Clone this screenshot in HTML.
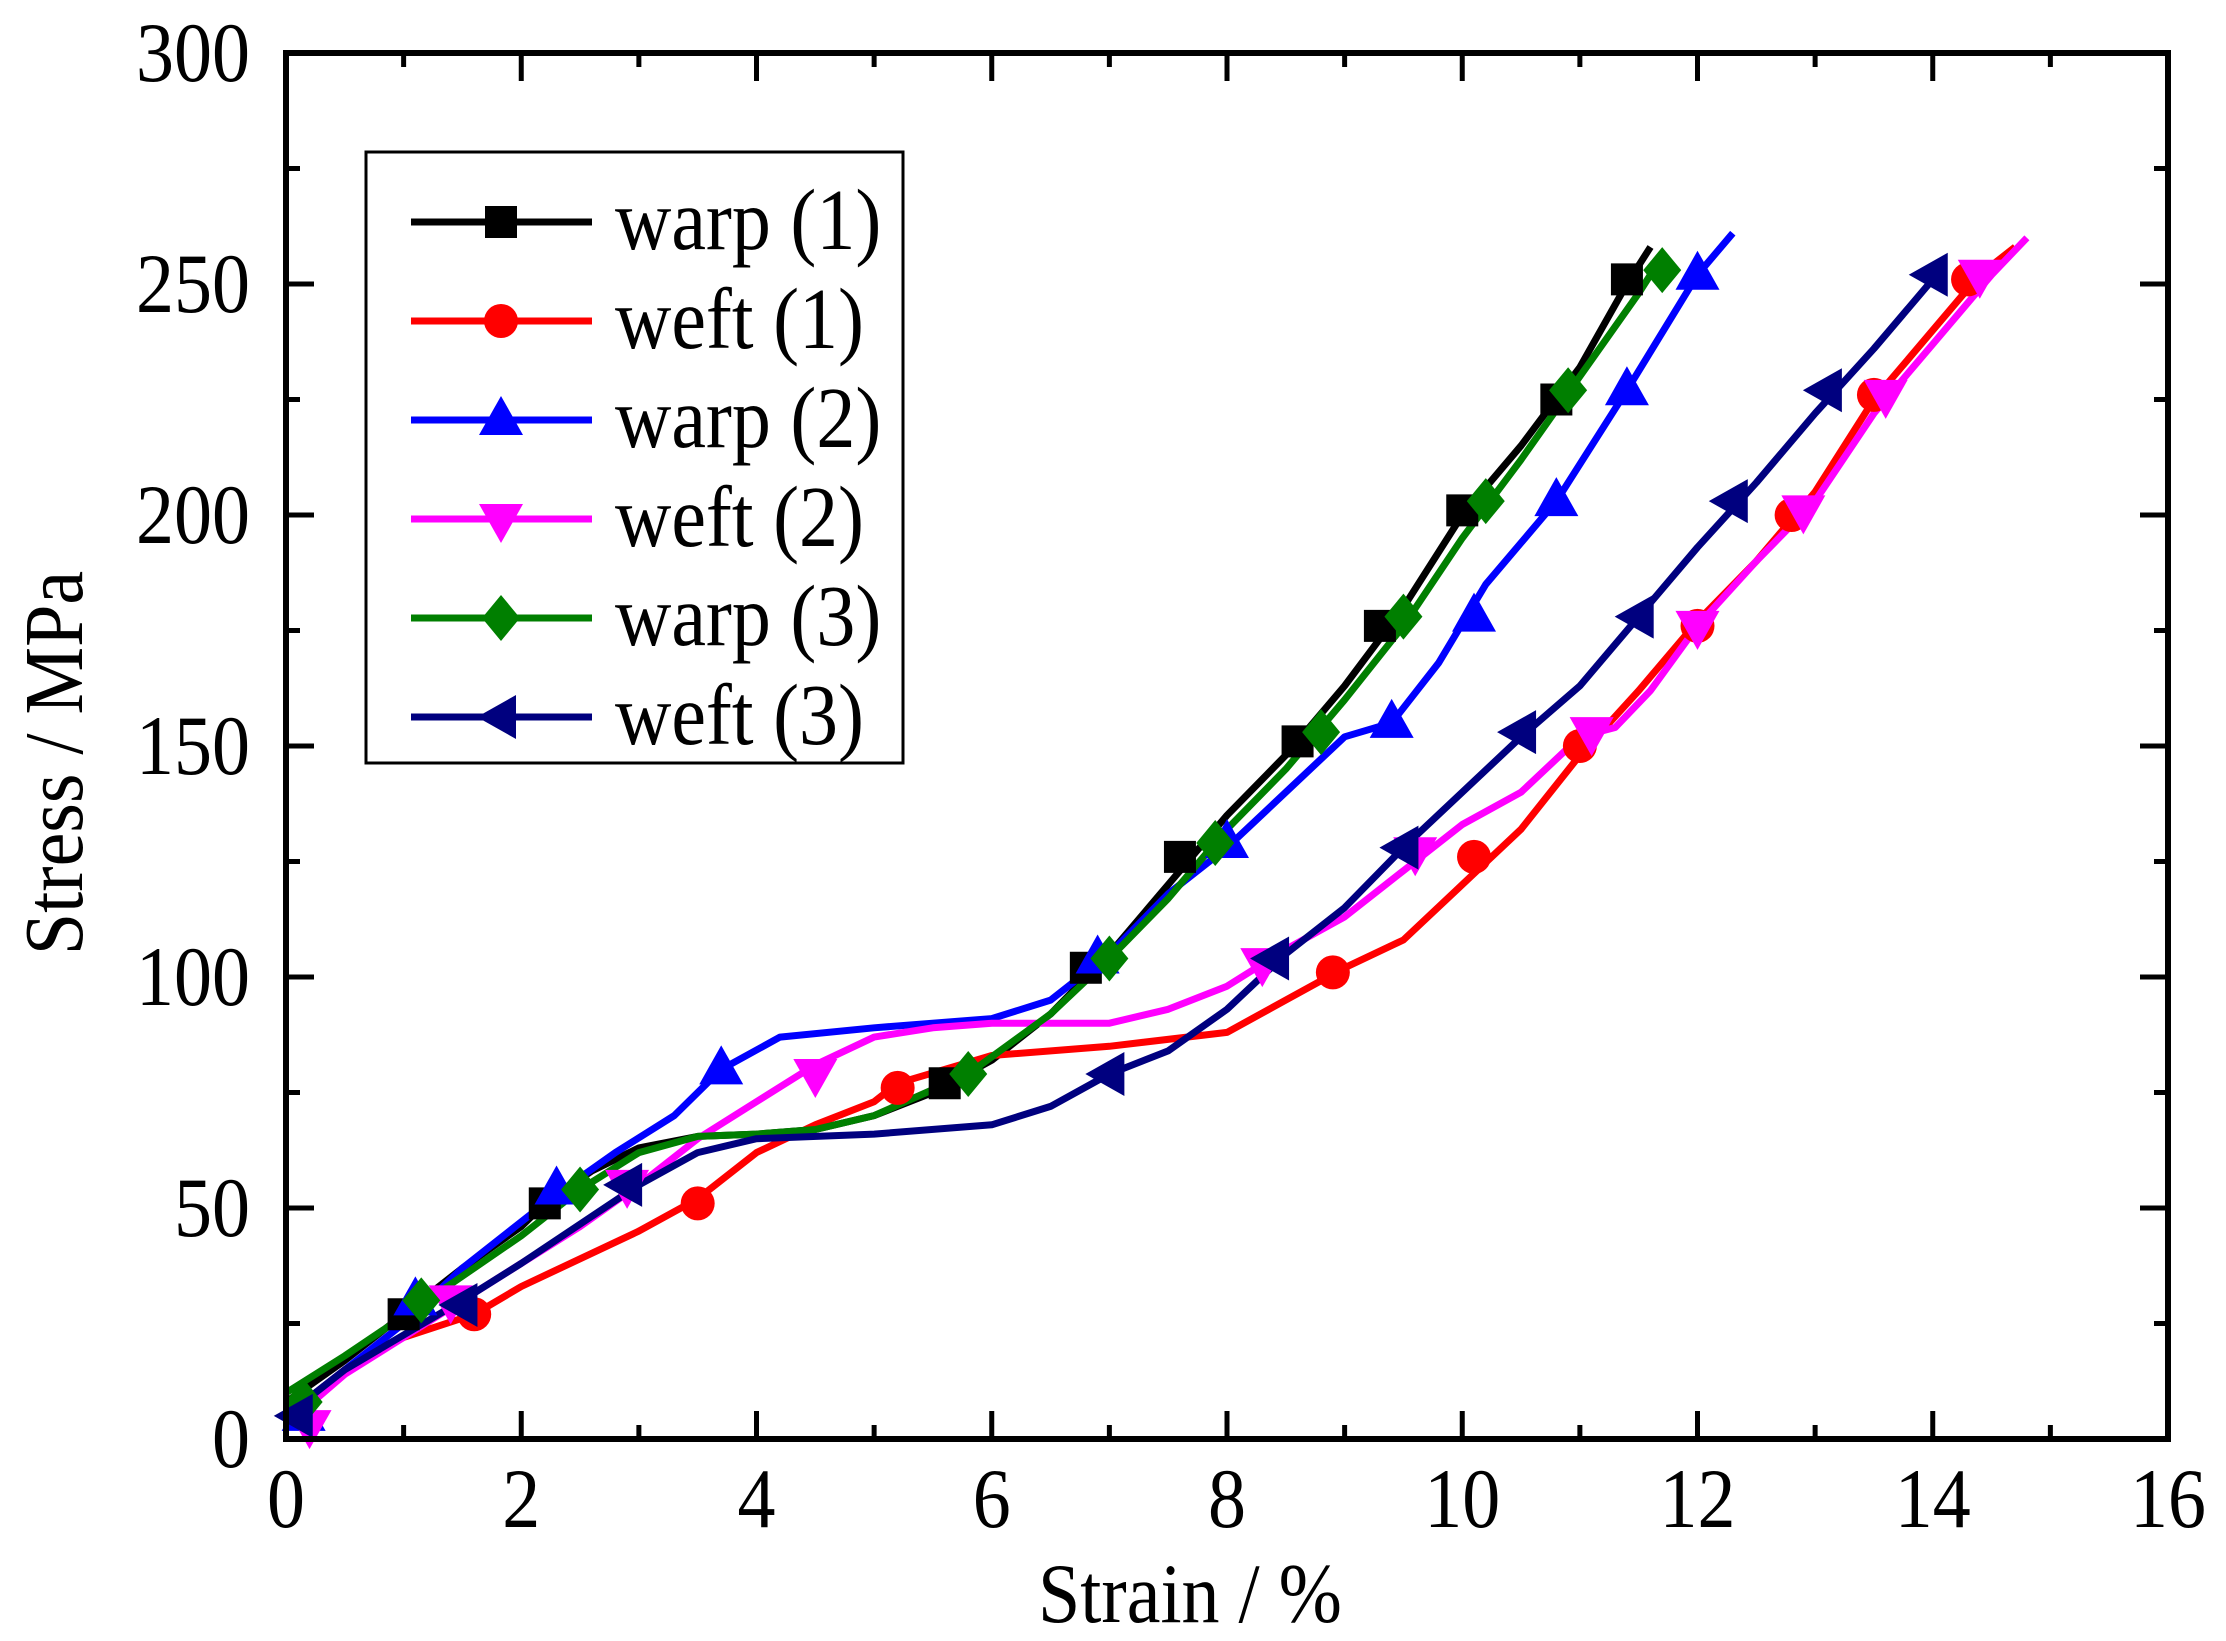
<!DOCTYPE html>
<html><head><meta charset="utf-8"><style>
html,body{margin:0;padding:0;background:#fff}
svg{display:block}
text{font-family:"Liberation Serif",serif;fill:#000}
</style></head><body>
<svg id="s" width="2226" height="1641" viewBox="0 0 2226 1641" xmlns="http://www.w3.org/2000/svg"></svg>
<script>
const L=286,R=2168,T=53,B=1439;
const X=v=>L+(R-L)*v/16, Y=v=>B-(B-T)*v/300;
let h='<rect width="2226" height="1641" fill="#fff"/>';
const series=[
{c:'#000',m:'sq',d:[[0,8],[0.5,17],[1,27],[1.5,37],[2,46],[2.2,51],[2.6,58],[3,63],[3.5,65.5],[4,66],[4.5,67],[5,70],[5.5,75],[6,82],[6.5,92],[7,105],[7.5,120],[8,135],[8.5,148],[9,163],[9.5,180],[10,200],[10.5,215],[11,232],[11.4,250],[11.6,258]],
 k:[[1,27],[2.2,51],[5.6,77],[6.8,102],[7.6,126],[8.6,151],[9.3,176],[10,201],[10.8,225],[11.4,251]]},
{c:'#ff0000',m:'ci',d:[[0,5],[0.5,15],[1,22],[1.6,27],[2,33],[3,45],[3.5,52],[4,62],[4.5,68],[5,73],[5.2,77],[6,83],[7,85],[8,88],[8.5,95],[9,102],[9.5,108],[10,120],[10.5,132],[11,148],[11.5,162],[12,177],[12.5,190],[13,205],[13.5,225],[14,240],[14.4,252],[14.7,258]],
 k:[[1.6,27],[3.5,51],[5.2,76],[8.9,101],[10.1,126],[11,150],[12,176],[12.8,200],[13.5,226],[14.3,251]]},
{c:'#0000ff',m:'tu',d:[[0,5],[0.5,15],[1,25],[1.5,37],[2.3,53],[2.8,62],[3.3,70],[3.7,80],[4.2,87],[5,89],[6,91],[6.5,95],[7,105],[7.5,118],[8,128],[8.5,140],[9,152],[9.4,155],[9.8,168],[10.2,185],[10.8,203],[11.4,227],[12,252],[12.3,261]],
 k:[[0.15,5],[1.1,30],[2.3,54],[3.7,80],[6.9,104],[8,129],[9.4,155],[10.1,178],[10.8,203],[11.4,227],[12,252]]},
{c:'#ff00ff',m:'td',d:[[0,3],[0.5,14],[1,22],[1.5,30],[2,38],[2.5,46],[3,55],[3.5,65],[4,73],[4.5,81],[5,87],[5.5,89],[6,90],[7,90],[7.5,93],[8,98],[8.5,106],[9,113],[9.5,123],[10,133],[10.5,140],[11,152],[11.3,154],[11.6,162],[12,176],[12.5,190],[13,203],[13.5,222],[14,237],[14.5,252],[14.8,260]],
 k:[[0.2,3],[1.4,30],[2.9,55],[4.5,79],[8.3,103],[9.6,127],[11.1,153],[12,176],[12.9,201],[13.6,226],[14.4,252]]},
{c:'#007f00',m:'di',d:[[0,10],[0.5,18],[1.2,30],[2,44],[2.5,54],[3,62],[3.5,65.5],[4,66],[4.5,67],[5,70],[5.8,79],[6.5,92],[7,104],[7.5,117],[8,132],[8.5,145],[9,160],[9.5,176],[10,195],[10.5,212],[11,230],[11.5,248],[11.7,256]],
 k:[[0.15,8],[1.15,30],[2.5,54],[5.8,79],[7,104],[7.9,129],[8.8,153],[9.5,178],[10.2,203],[10.9,227],[11.7,253]]},
{c:'#00007f',m:'tl',d:[[0,5],[0.5,15],[1.5,30],[2,38],[3,55],[3.5,62],[4,65],[5,66],[6,68],[6.5,72],[7,79],[7.5,84],[8,93],[8.5,105],[9,115],[9.5,128],[10,140],[10.5,152],[11,163],[11.5,178],[12,193],[12.5,207],[13,222],[13.5,236],[14,251],[14.1,255]],
 k:[[0.1,5],[1.5,29],[2.9,55],[7,79],[8.4,104],[9.5,128],[10.5,153],[11.5,178],[12.3,203],[13.1,227],[14,252]]}
];
function mk(m,x,y,c){
 if(m=='sq')return `<rect x="${x-16}" y="${y-16}" width="32" height="32" fill="${c}"/>`;
 if(m=='ci')return `<ellipse cx="${x}" cy="${y}" rx="17" ry="17" fill="${c}"/>`;
 if(m=='tu')return `<polygon points="${x},${y-24} ${x+22},${y+15} ${x-22},${y+15}" fill="${c}"/>`;
 if(m=='td')return `<polygon points="${x},${y+24} ${x+22},${y-15} ${x-22},${y-15}" fill="${c}"/>`;
 if(m=='di')return `<polygon points="${x},${y-23} ${x+19},${y} ${x},${y+23} ${x-19},${y}" fill="${c}"/>`;
 if(m=='tl')return `<polygon points="${x-24},${y} ${x+15},${y-22} ${x+15},${y+22}" fill="${c}"/>`;
}
for(const s of series){
 h+=`<polyline fill="none" stroke="${s.c}" stroke-width="7" stroke-linejoin="round" points="${s.d.map(p=>X(p[0]).toFixed(1)+','+Y(p[1]).toFixed(1)).join(' ')}"/>`;
}
for(const s of series){for(const p of s.k)h+=mk(s.m,X(p[0]),Y(p[1]),s.c);}
h+=`<rect x="${L}" y="${T}" width="${R-L}" height="${B-T}" fill="none" stroke="#000" stroke-width="6"/>`;
const tx=(x,y,s,a,extra)=>`<text transform="translate(${x},${y}) scale(1,1.12)${extra||''}" font-size="${s}" text-anchor="${a}">`;
for(let i=0;i<=16;i++){const x=X(i),len=i%2?14:28;
 h+=`<line x1="${x}" y1="${B}" x2="${x}" y2="${B-len}" stroke="#000" stroke-width="5"/><line x1="${x}" y1="${T}" x2="${x}" y2="${T+len}" stroke="#000" stroke-width="5"/>`;
 if(i%2==0)h+=tx(x,1527,76,'middle')+`${i}</text>`;}
for(let v=0;v<=300;v+=25){const y=Y(v),len=v%50?14:28;
 h+=`<line x1="${L}" y1="${y}" x2="${L+len}" y2="${y}" stroke="#000" stroke-width="5"/><line x1="${R}" y1="${y}" x2="${R-len}" y2="${y}" stroke="#000" stroke-width="5"/>`;
 if(v%50==0)h+=tx(250,y+28,76,'end')+`${v}</text>`;}
h+=tx(1190,1622,76,'middle')+`Strain / %</text>`;
h+=`<text transform="translate(82,763) rotate(-90) scale(1,1.1)" font-size="76" text-anchor="middle">Stress / MPa</text>`;
h+=`<rect x="366" y="152" width="537" height="611" fill="#fff" stroke="#000" stroke-width="3"/>`;
const names=['warp (1)','weft (1)','warp (2)','weft (2)','warp (3)','weft (3)'];
series.forEach((s,i)=>{const y=222+i*99;
 h+=`<line x1="411" y1="${y}" x2="592" y2="${y}" stroke="${s.c}" stroke-width="7"/>`+mk(s.m,501,y,s.c)+
 tx(615,y+27,78,'start')+`${names[i]}</text>`;});
document.getElementById('s').innerHTML=h;
</script>
</body></html>
